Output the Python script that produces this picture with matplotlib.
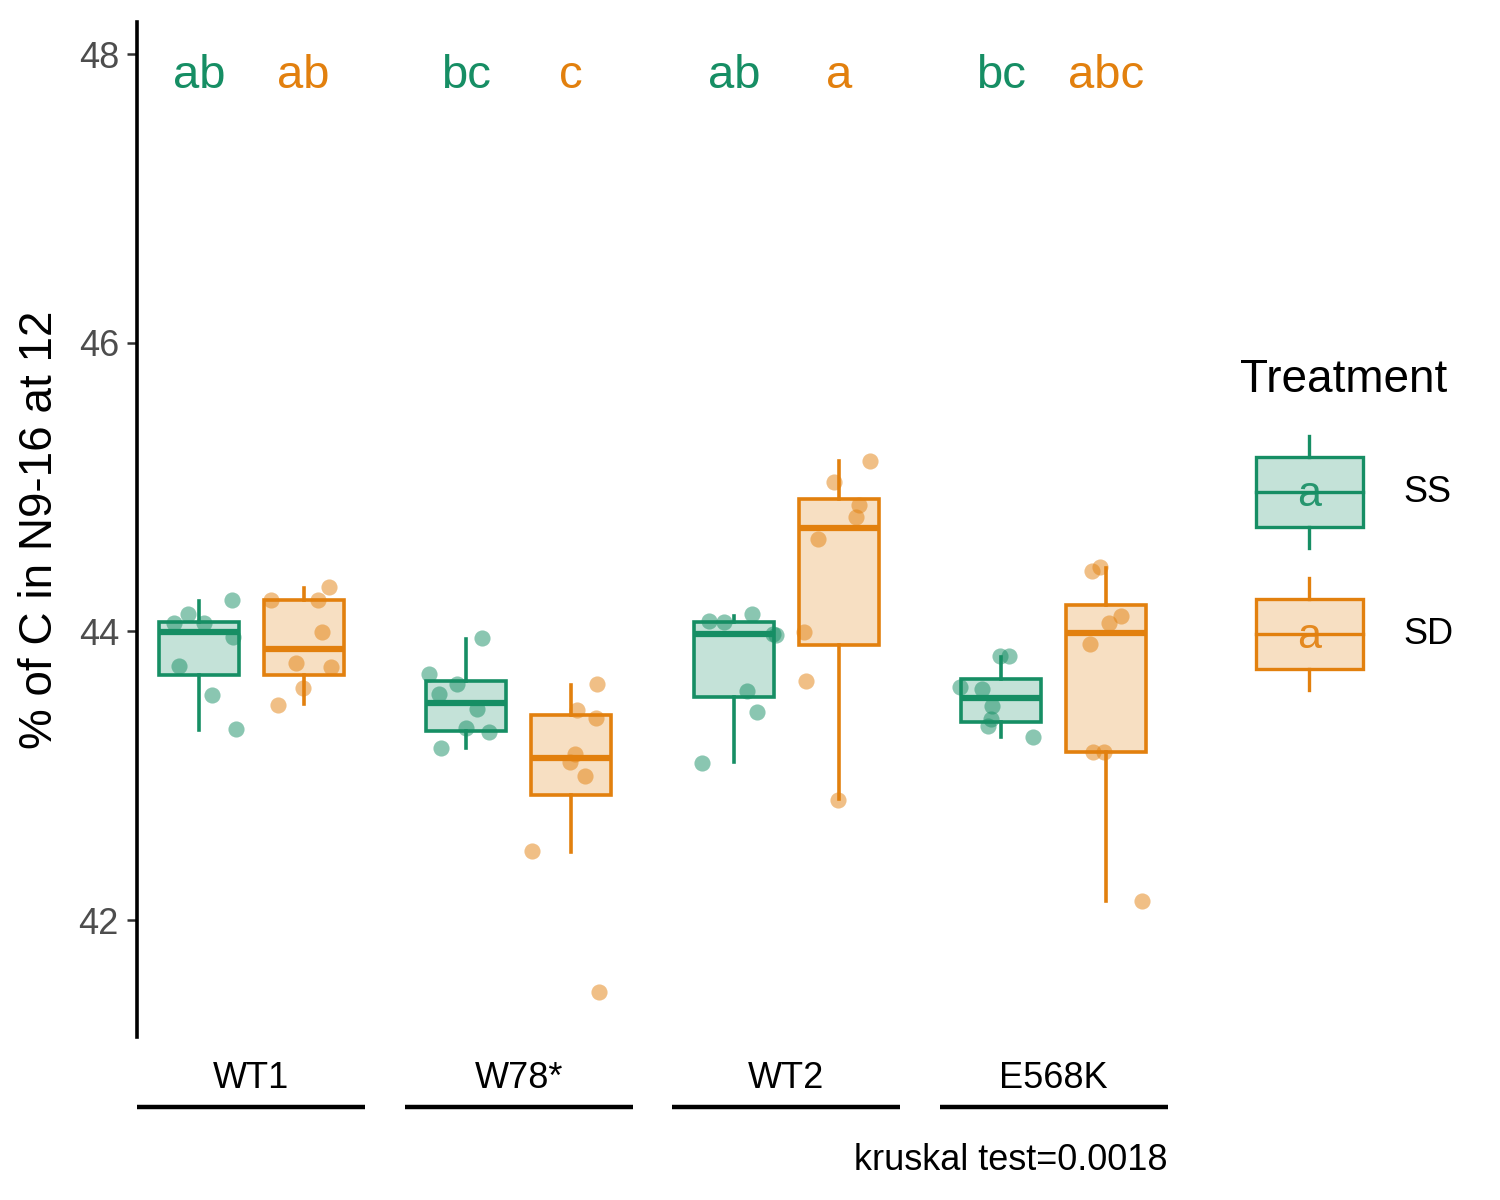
import numpy as np
import matplotlib.pyplot as plt
from matplotlib.patches import Rectangle
from matplotlib.colors import to_rgba
from matplotlib.transforms import blended_transform_factory

plt.rcParams['font.family'] = ['Liberation Sans', 'DejaVu Sans']

# Data
groups = ['WT1', 'W78*', 'WT2', 'E568K']
treatments = ['SS', 'SD']

ss_values = [
    [44.217, 44.118, 44.056, 44.056, 43.96, 43.76, 43.557, 43.321],
    [43.956, 43.704, 43.633, 43.563, 43.46, 43.328, 43.305, 43.194],
    [44.12, 44.071, 44.065, 43.98, 43.977, 43.586, 43.443, 43.09],
    [43.829, 43.829, 43.612, 43.598, 43.485, 43.39, 43.346, 43.266],
]
sd_values = [
    [44.305, 44.217, 44.217, 43.993, 43.78, 43.75, 43.605, 43.49],
    [43.635, 43.455, 43.398, 43.15, 43.097, 43.0, 42.478, 41.503],
    [45.182, 45.037, 44.875, 44.794, 44.64, 43.993, 43.656, 42.83],
    [44.444, 44.42, 44.106, 44.056, 43.912, 43.166, 43.166, 42.134],
]
# horizontal jitter of each point (as drawn in the reference)
ss_jitter = [
    [0.125, -0.041, -0.094, 0.021, 0.127, -0.075, 0.049, 0.14],
    [0.059, -0.139, -0.036, -0.102, 0.041, -0.001, 0.084, -0.093],
    [0.069, -0.091, -0.037, 0.146, 0.156, 0.048, 0.087, -0.119],
    [-0.005, 0.03, -0.154, -0.074, -0.035, -0.039, -0.049, 0.117],
]
sd_jitter = [
    [0.093, -0.122, 0.052, 0.069, -0.029, 0.102, -0.001, -0.097],
    [0.095, 0.02, 0.093, 0.014, -0.004, 0.05, -0.147, 0.105],
    [0.116, -0.018, 0.076, 0.064, -0.076, -0.131, -0.122, -0.003],
    [-0.025, -0.054, 0.055, 0.011, -0.06, -0.05, -0.007, 0.135],
]
# box stats: whisker low, q1, median, q3, whisker high
ss_box = [
    (43.32, 43.697, 43.995, 44.067, 44.21),
    (43.194, 43.31, 43.506, 43.656, 43.95),
    (43.093, 43.547, 43.98, 44.067, 44.108),
    (43.266, 43.374, 43.54, 43.667, 43.82),
]
sd_box = [
    (43.497, 43.70, 43.88, 44.217, 44.298),
    (42.473, 42.866, 43.122, 43.42, 43.628),
    (42.836, 43.905, 44.718, 44.917, 45.182),
    (42.134, 43.162, 43.986, 44.182, 44.437),
]
ss_letters = ['ab', 'bc', 'ab', 'bc']
sd_letters = ['ab', 'c', 'a', 'abc']
kruskal_p = 0.0018

green = '#168E64'
orange = '#E2800E'
dodge = 0.196
box_w = 0.30
letter_y = 47.85

fig = plt.figure(figsize=(15, 12), dpi=100)
ax = fig.add_axes([137 / 1500, 1 - 1037 / 1200, (1168 - 137) / 1500, (1037 - 22) / 1200])

xpos = np.arange(1, len(groups) + 1)

series = [
    (ss_values, ss_jitter, ss_box, ss_letters, green, -dodge),
    (sd_values, sd_jitter, sd_box, sd_letters, orange, dodge),
]
for values, jitter, boxes, letters, col, off in series:
    stats = []
    for b in boxes:
        stats.append(dict(whislo=b[0], q1=b[1], med=b[2], q3=b[3], whishi=b[4]))
    ax.bxp(stats, positions=xpos + off, widths=box_w, patch_artist=True,
           showcaps=False, showfliers=False,
           boxprops=dict(facecolor=to_rgba(col, 0.25), edgecolor=col, linewidth=2.6),
           whiskerprops=dict(color=col, linewidth=2.6),
           medianprops=dict(color=col, linewidth=4.5, solid_capstyle='butt'),
           manage_ticks=False, zorder=2)
    for i in range(len(groups)):
        xs = xpos[i] + off + np.array(jitter[i])
        ax.scatter(xs, values[i], s=135, color=col, alpha=0.5, linewidths=0, zorder=3)
        ax.text(xpos[i] + off, letter_y, letters[i], color=col, fontsize=34,
                ha='center', va='center')

ax.set_xlim(0.573, 4.427)
ax.set_ylim(41.19, 48.222)
ax.set_yticks([42, 44, 46, 48])
ax.set_xticks(xpos)
ax.set_xticklabels(groups, fontsize=26)
ax.tick_params(axis='x', length=0, pad=17, colors='black')
ax.tick_params(axis='y', length=7, width=1.8, color='#333333', labelsize=26,
               labelcolor='#4D4D4D', pad=6)
for s in ['top', 'right', 'bottom']:
    ax.spines[s].set_visible(False)
ax.spines['left'].set_linewidth(2.6)
ax.set_ylabel('% of C in N9-16 at 12', fontsize=33, labelpad=12)

# group underline segments
trans = blended_transform_factory(ax.transData, ax.transAxes)
for x in xpos:
    ax.plot([x - 0.427, x + 0.427], [-0.069, -0.069], color='black', linewidth=3.2,
            transform=trans, clip_on=False, solid_capstyle='butt')

fig.text(1168 / 1500, 1 - 1160 / 1200, 'kruskal test=%s' % kruskal_p,
         ha='right', va='center', fontsize=26)

# legend drawn by hand
lax = fig.add_axes([1230 / 1500, 1 - 710 / 1200, 270 / 1500, 370 / 1200])
lax.set_xlim(1230, 1500)
lax.set_ylim(710, 340)
lax.axis('off')
lax.text(1240, 380, 'Treatment', fontsize=33, va='center', ha='left')
keys = [(treatments[0], green, 492), (treatments[1], orange, 634)]
for name, col, yc in keys:
    lax.add_patch(Rectangle((1256, yc - 35), 107, 70, facecolor=to_rgba(col, 0.25),
                            edgecolor=col, linewidth=2.4))
    lax.plot([1256, 1363], [yc, yc], color=col, linewidth=2.4)
    lax.plot([1309, 1309], [yc - 35, yc - 56], color=col, linewidth=2.4)
    lax.plot([1309, 1309], [yc + 35, yc + 56], color=col, linewidth=2.4)
    lax.text(1309, yc + 3, 'a', color=col, fontsize=31, ha='center', va='center', alpha=0.9)
    lax.text(1403, yc, name, fontsize=26, ha='left', va='center')

fig.savefig('out.png', dpi=100)
